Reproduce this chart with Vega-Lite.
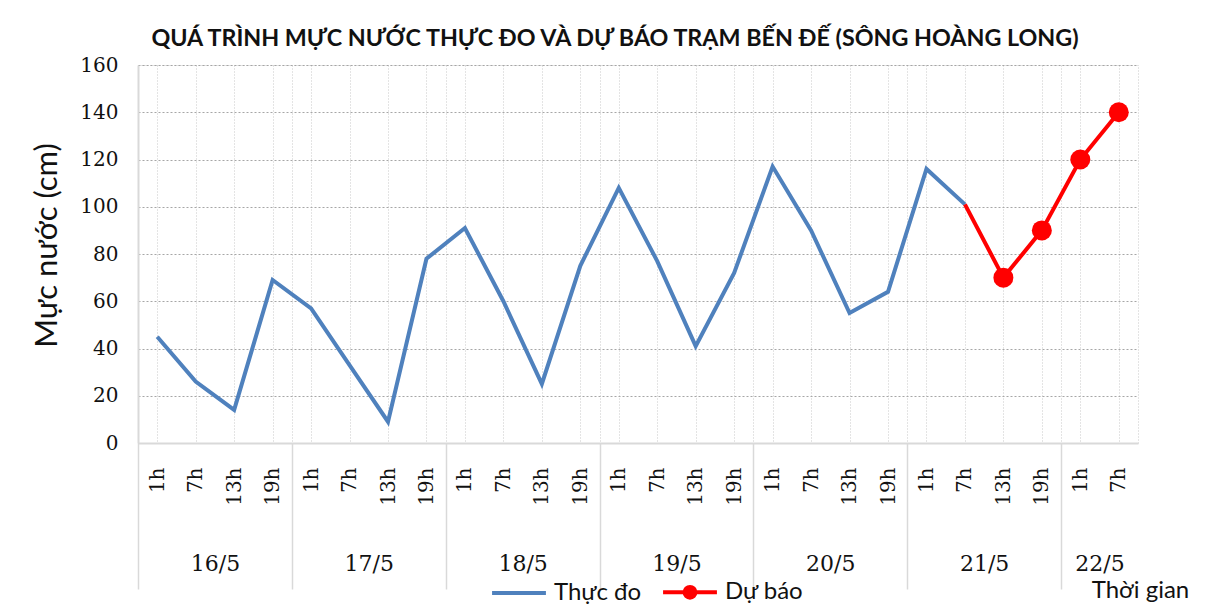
{
  "$schema": "https://vega.github.io/schema/vega-lite/v6.json",
  "width": 1000,
  "height": 378,
  "autosize": {"type": "none"},
  "padding": {"left": 138, "top": 65, "right": 81, "bottom": 165},
  "background": "white",
  "title": {
    "text": "QUÁ TRÌNH MỰC NƯỚC THỰC ĐO VÀ DỰ BÁO TRẠM BẾN ĐẾ (SÔNG HOÀNG LONG)",
    "font": "Lato", "fontSize": 23.3, "fontWeight": "bold", "color": "#111",
    "anchor": "middle", "dx": -23, "offset": 4
  },
  "data": {
    "values": [
      {"t": "2014-05-16T01:00:00Z", "muc": 45, "series": "Thực đo"},
      {"t": "2014-05-16T07:00:00Z", "muc": 26, "series": "Thực đo"},
      {"t": "2014-05-16T13:00:00Z", "muc": 14, "series": "Thực đo"},
      {"t": "2014-05-16T19:00:00Z", "muc": 69, "series": "Thực đo"},
      {"t": "2014-05-17T01:00:00Z", "muc": 57, "series": "Thực đo"},
      {"t": "2014-05-17T07:00:00Z", "muc": 33, "series": "Thực đo"},
      {"t": "2014-05-17T13:00:00Z", "muc": 9, "series": "Thực đo"},
      {"t": "2014-05-17T19:00:00Z", "muc": 78, "series": "Thực đo"},
      {"t": "2014-05-18T01:00:00Z", "muc": 91, "series": "Thực đo"},
      {"t": "2014-05-18T07:00:00Z", "muc": 60, "series": "Thực đo"},
      {"t": "2014-05-18T13:00:00Z", "muc": 25, "series": "Thực đo"},
      {"t": "2014-05-18T19:00:00Z", "muc": 75, "series": "Thực đo"},
      {"t": "2014-05-19T01:00:00Z", "muc": 108, "series": "Thực đo"},
      {"t": "2014-05-19T07:00:00Z", "muc": 77, "series": "Thực đo"},
      {"t": "2014-05-19T13:00:00Z", "muc": 41, "series": "Thực đo"},
      {"t": "2014-05-19T19:00:00Z", "muc": 72, "series": "Thực đo"},
      {"t": "2014-05-20T01:00:00Z", "muc": 117, "series": "Thực đo"},
      {"t": "2014-05-20T07:00:00Z", "muc": 90, "series": "Thực đo"},
      {"t": "2014-05-20T13:00:00Z", "muc": 55, "series": "Thực đo"},
      {"t": "2014-05-20T19:00:00Z", "muc": 64, "series": "Thực đo"},
      {"t": "2014-05-21T01:00:00Z", "muc": 116, "series": "Thực đo"},
      {"t": "2014-05-21T07:00:00Z", "muc": 101, "series": "Thực đo"},
      {"t": "2014-05-21T07:00:00Z", "muc": 101, "series": "Dự báo"},
      {"t": "2014-05-21T13:00:00Z", "muc": 70, "series": "Dự báo"},
      {"t": "2014-05-21T19:00:00Z", "muc": 90, "series": "Dự báo"},
      {"t": "2014-05-22T01:00:00Z", "muc": 120, "series": "Dự báo"},
      {"t": "2014-05-22T07:00:00Z", "muc": 140, "series": "Dự báo"}
    ]
  },
  "encoding": {
    "y": {
      "field": "muc", "type": "quantitative",
      "scale": {"domain": [0, 160]},
      "axis": {
        "title": "Mực nước (cm)",
        "values": [0, 20, 40, 60, 80, 100, 120, 140, 160],
        "ticks": false, "labelPadding": 20,
        "labelFont": "DejaVu Serif", "labelFontSize": 20, "labelColor": "#111",
        "domainColor": "#d9d9d9", "domainWidth": 2,
        "grid": true, "gridColor": "#a6a6a6", "gridDash": [2, 2],
        "titleFont": "Lato", "titleFontSize": 31, "titleFontWeight": "normal",
        "titleColor": "#111", "titlePadding": 16, "titleY": 180
      }
    }
  },
  "layer": [
    {
      "transform": [{"filter": "datum.series === 'Thực đo'"}],
      "mark": {"type": "line", "strokeWidth": 4, "color": "#4F81BD"},
      "encoding": {
        "x": {
          "field": "t", "type": "temporal",
          "scale": {"type": "utc", "domain": [1400191200000, 1400752800000]},
          "axis": {
            "orient": "bottom",
            "values": [1400202000000, 1400223600000, 1400245200000, 1400266800000, 1400288400000, 1400310000000, 1400331600000, 1400353200000, 1400374800000, 1400396400000, 1400418000000, 1400439600000, 1400461200000, 1400482800000, 1400504400000, 1400526000000, 1400547600000, 1400569200000, 1400590800000, 1400612400000, 1400634000000, 1400655600000, 1400677200000, 1400698800000, 1400720400000, 1400742000000],
            "labelExpr": "utcFormat(datum.value, '%-H') + 'h'",
            "labelAngle": 270, "labelPadding": 24, "ticks": false,
            "labelFont": "DejaVu Serif", "labelFontSize": 20, "labelColor": "#111",
            "domainColor": "#d9d9d9", "domainWidth": 2,
            "grid": true, "gridColor": "#c8c8c8", "gridDash": [1, 2],
            "title": null, "labelOverlap": false, "labelFlush": false, "labelBound": false
          }
        }
      }
    },
    {
      "transform": [{"filter": "datum.series === 'Dự báo'"}],
      "mark": {"type": "line", "strokeWidth": 4, "color": "#FF0000"},
      "encoding": {
        "x": {
          "field": "t", "type": "temporal",
          "scale": {"type": "utc", "domain": [1400191200000, 1400752800000]},
          "axis": {
            "orient": "bottom",
            "values": [1400234400000, 1400320800000, 1400407200000, 1400493600000, 1400580000000, 1400666400000, 1400731200000],
            "labelExpr": "utcFormat(datum.value, '%-d/%-m')",
            "labelAngle": 0, "ticks": false, "domain": false, "grid": false,
            "labelPadding": 110, "labelFont": "DejaVu Serif", "labelFontSize": 22, "labelColor": "#111",
            "title": null, "labelOverlap": false, "labelFlush": false, "labelBound": false
          }
        }
      }
    },
    {
      "transform": [{"filter": "datum.series === 'Dự báo' && time(datum.t) > 1400655600000"}],
      "mark": {"type": "point", "filled": true, "size": 400, "opacity": 1, "color": "#FF0000"},
      "encoding": {
        "x": {
          "field": "t", "type": "temporal",
          "scale": {"type": "utc", "domain": [1400191200000, 1400752800000]},
          "axis": {
            "orient": "bottom",
            "values": [1400191200000, 1400277600000, 1400364000000, 1400450400000, 1400536800000, 1400623200000, 1400709600000],
            "labels": false, "ticks": true, "tickSize": 146, "tickColor": "#d9d9d9", "tickWidth": 1.5,
            "domain": false, "grid": true, "gridColor": "#c8c8c8", "gridDash": [1, 2],
            "title": "Thời gian", "titleFont": "Lato", "titleFontSize": 24, "titleFontWeight": "normal",
            "titleColor": "#111", "titleX": 1002, "titleY": 147, "titleAlign": "center", "titleBaseline": "middle"
          }
        }
      }
    },
    {
      "transform": [{"filter": "datum.series === 'Dự báo' && time(datum.t) > 1400655600000"}],
      "mark": {"type": "point", "filled": false, "size": 16, "strokeWidth": 4, "opacity": 1},
      "encoding": {
        "x": {
          "field": "t", "type": "temporal",
          "scale": {"type": "utc", "domain": [1400191200000, 1400752800000]},
          "axis": null
        },
        "color": {
          "field": "series", "type": "nominal",
          "scale": {"domain": ["Thực đo", "Dự báo"], "range": ["#4F81BD", "#FF0000"]},
          "legend": {
            "title": null, "orient": "none", "legendX": 352, "legendY": 498, "direction": "horizontal",
            "symbolSize": 2900, "symbolStrokeWidth": 4, "symbolOpacity": 1,
            "labelFont": "Lato", "labelFontSize": 24, "labelColor": "#111",
            "labelOffset": 6, "columnPadding": 13
          }
        },
        "shape": {
          "field": "series", "type": "nominal",
          "scale": {
            "domain": ["Thực đo", "Dự báo"],
            "range": ["stroke", "M-1,0L1,0M0.2,0A0.2,0.2,0,1,1,-0.2,0A0.2,0.2,0,1,1,0.2,0M0.1,0A0.1,0.1,0,1,1,-0.1,0A0.1,0.1,0,1,1,0.1,0M0.03,0A0.03,0.03,0,1,1,-0.03,0A0.03,0.03,0,1,1,0.03,0"]
          },
          "legend": {
            "title": null, "orient": "none", "legendX": 352, "legendY": 498, "direction": "horizontal",
            "symbolSize": 2900, "symbolStrokeWidth": 4, "symbolOpacity": 1,
            "labelFont": "Lato", "labelFontSize": 24, "labelColor": "#111",
            "labelOffset": 6, "columnPadding": 13
          }
        }
      }
    }
  ],
  "resolve": {"axis": {"x": "independent"}},
  "config": {
    "view": {"stroke": "#c8c8c8", "strokeDash": [1, 2]}
  }
}
